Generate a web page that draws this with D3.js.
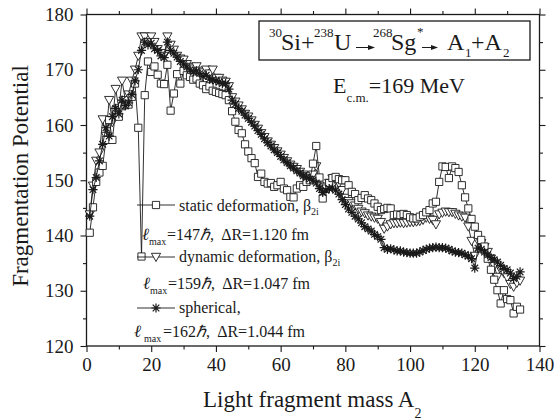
<!DOCTYPE html>
<html><head><meta charset="utf-8">
<script src="https://cdn.jsdelivr.net/npm/d3@7"></script>
<style>
body{margin:0;background:#fff}
svg{display:block}
text{font-family:"Liberation Serif","Times New Roman",serif;fill:#1a1a1a}
</style>
</head><body>
<svg id="c" width="554" height="420"></svg>
<script>
// ---- data ----
const massNumbers = d3.range(1, 135); // light fragment mass A2 = 1..134
const staticDef = [140.5,145.1,149.7,151.4,152.6,157.3,160.9,157.3,162.7,161.5,
163.4,163.6,163.7,165.1,167.5,159.5,136.2,165.4,171.5,169.6,
170.6,169.1,167.5,167.4,170.9,162.6,165.7,169.2,167.5,169.8,
169.0,168.7,168.2,168.4,167.5,167.2,166.5,167.0,166.2,166.0,
165.8,165.6,165.4,164.5,162.5,160.6,159.1,158.5,156.5,155.2,
154.0,153.1,150.6,151.2,149.7,149.4,149.5,148.8,149.1,149.7,
148.5,148.2,147.0,146.9,148.5,149.1,148.8,149.7,150.0,153.0,
156.2,150.5,146.7,148.5,149.5,150.4,150.6,150.2,150.0,150.0,
149.1,147.9,147.5,146.4,146.8,147.3,146.7,146.4,145.8,145.2,
144.6,144.8,145.0,144.9,143.7,143.8,143.7,143.9,143.7,143.3,
143.1,143.1,143.4,143.7,144.2,144.6,145.8,146.1,149.7,152.5,
152.4,150.4,152.5,152.2,151.5,149.1,146.9,144.9,143.0,141.6,
140.1,139.2,138.0,135.8,133.8,132.0,130.1,127.7,130.1,128.5,
128.3,125.9,127.1,126.6];
const dynamicDef = [143.8,149.0,153.5,155.0,161.0,158.0,164.5,160.5,166.5,163.0,
168.0,164.5,165.5,168.0,170.0,172.5,176.0,176.0,175.0,176.0,
175.0,173.7,173.0,172.5,176.0,174.5,173.6,172.5,172.0,171.8,
171.0,170.5,170.2,170.6,169.8,169.5,170.0,169.3,170.0,168.5,
168.5,168.0,167.8,167.0,165.0,164.2,163.5,162.8,162.0,161.5,
160.8,160.0,159.3,158.5,157.8,157.0,156.4,155.8,155.2,154.6,
154.0,153.4,152.8,152.4,152.0,151.5,151.0,150.7,150.4,151.0,
152.5,149.0,148.2,148.8,149.5,150.3,150.0,149.4,148.2,146.8,
146.2,145.8,145.4,144.8,144.3,144.0,143.6,143.4,143.2,143.0,
142.4,141.2,141.6,142.0,142.2,142.2,142.3,142.2,142.3,142.4,
142.4,142.5,142.6,142.8,143.2,143.0,142.8,142.0,143.8,144.1,
144.3,144.2,144.2,143.9,143.6,143.4,143.2,141.6,139.0,136.3,
139.0,138.6,137.9,137.0,135.8,134.5,132.5,133.8,133.2,132.4,
131.2,130.7,131.4,131.8];
const spherical = [143.5,148.3,150.5,153.5,156.5,159.5,158.0,161.5,163.0,162.0,
164.5,163.5,164.0,165.5,168.0,170.0,173.5,175.0,174.5,174.8,
173.8,173.5,172.5,172.2,175.0,173.5,173.0,172.3,171.5,171.0,
170.5,170.0,169.6,169.8,169.3,168.8,169.0,168.3,168.2,168.0,
167.8,167.5,167.5,166.5,164.5,163.8,163.0,162.5,161.8,161.2,
160.5,159.8,159.0,158.3,157.5,156.8,156.2,155.5,155.0,154.3,
153.7,153.2,152.6,152.2,151.7,151.3,150.8,150.5,150.2,150.0,
149.5,148.5,147.8,148.2,148.5,148.6,148.2,147.5,146.5,145.6,
144.8,144.2,143.5,143.0,142.3,141.6,141.2,140.8,140.2,139.8,
139.3,137.8,137.5,137.6,137.4,137.2,137.2,137.0,136.9,136.8,
136.8,136.8,137.0,137.3,137.5,137.7,137.8,137.9,137.8,137.8,
137.7,137.5,137.2,137.0,136.9,136.8,136.5,136.3,135.8,134.1,
137.7,137.5,137.0,136.5,136.0,135.6,135.2,134.6,134.0,133.8,
133.2,132.2,132.6,133.4];
const xTicks = [0, 20, 40, 60, 80, 100, 120, 140];
const xMinor = [10, 30, 50, 70, 90, 110, 130];
const yTicks = [120, 130, 140, 150, 160, 170, 180];
const yMinor = [125, 135, 145, 155, 165, 175];

// ---- scales ----
const svg = d3.select("#c");
const x = d3.scaleLinear().domain([0, 140]).range([86.5, 539.5]);
const y = d3.scaleLinear().domain([120, 180]).range([346, 14.5]);
const INK = "#1a1a1a";
const SERIF = '"Liberation Serif","Times New Roman",serif';

// ---- axes ----
function styleAxis(g, labels) {
  g.select(".domain").remove();
  g.selectAll("line").attr("stroke", INK).attr("stroke-width", 1.1);
  g.selectAll("text").style("font-family", SERIF).attr("font-size", 19).attr("fill", INK);
  if (!labels) g.selectAll("text").remove();
  g.attr("font-family", null).attr("font-size", null);
}
svg.append("g").attr("transform", `translate(0,${y(120)})`)
  .call(d3.axisBottom(x).tickValues(xTicks).tickSize(6).tickPadding(6).tickSizeOuter(0)).call(g => styleAxis(g, true));
svg.append("g").attr("transform", `translate(0,${y(120)})`)
  .call(d3.axisBottom(x).tickValues(xMinor).tickSize(3.5).tickFormat("")).call(g => styleAxis(g, false));
svg.append("g").attr("transform", `translate(0,${y(180)})`)
  .call(d3.axisTop(x).tickValues(xTicks).tickSize(6).tickFormat("")).call(g => styleAxis(g, false));
svg.append("g").attr("transform", `translate(0,${y(180)})`)
  .call(d3.axisTop(x).tickValues(xMinor).tickSize(3.5).tickFormat("")).call(g => styleAxis(g, false));
svg.append("g").attr("transform", `translate(${x(0)},0)`)
  .call(d3.axisLeft(y).tickValues(yTicks).tickSize(6).tickPadding(7).tickSizeOuter(0)).call(g => styleAxis(g, true));
svg.append("g").attr("transform", `translate(${x(0)},0)`)
  .call(d3.axisLeft(y).tickValues(yMinor).tickSize(3.5).tickFormat("")).call(g => styleAxis(g, false));
svg.append("g").attr("transform", `translate(${x(140)},0)`)
  .call(d3.axisRight(y).tickValues(yTicks).tickSize(6).tickFormat("")).call(g => styleAxis(g, false));
svg.append("g").attr("transform", `translate(${x(140)},0)`)
  .call(d3.axisRight(y).tickValues(yMinor).tickSize(3.5).tickFormat("")).call(g => styleAxis(g, false));

svg.append("rect").attr("x", x(0)).attr("y", y(180)).attr("width", x(140) - x(0)).attr("height", y(120) - y(180))
  .attr("fill", "none").attr("stroke", INK).attr("stroke-width", 1.3);

// ---- markers ----
const sq = "M-3.6,-3.6H3.6V3.6H-3.6Z";
const tri = "M-4.6,-3.7L4.6,-3.7L0,4.5Z";
const star = "M0,-4.6V4.6M-4.6,0H4.6M-3.3,-3.3L3.3,3.3M-3.3,3.3L3.3,-3.3";

const line = d3.line().x(d => x(d[0])).y(d => y(d[1]));
function series(vals, shape, fill, sw) {
  const pts = massNumbers.map((a, i) => [a, vals[i]]);
  const g = svg.append("g");
  g.append("path").attr("d", line(pts)).attr("fill", "none").attr("stroke", INK).attr("stroke-width", 0.9);
  g.selectAll("path.m").data(pts).join("path").attr("class", "m")
    .attr("transform", d => `translate(${x(d[0])},${y(d[1])})`)
    .attr("d", shape).attr("fill", fill).attr("stroke", INK).attr("stroke-width", sw);
}
series(dynamicDef, tri, "#fff", 0.9);
series(staticDef, sq, "#fff", 0.9);
series(spherical, star, "none", 1.2);

// ---- text helper ----
function txt(xp, yp, s, size, italic) {
  const t = svg.append("text").attr("x", xp).attr("y", yp).attr("font-size", size)
    .attr("xml:space", "preserve").style("font-family", SERIF).text(s);
  if (italic) t.attr("font-style", "italic");
  return t;
}

// ---- legend ----
const legendItems = [
  {shape: sq, fill: "#fff", y: 205, sw: 0.9},
  {shape: tri, fill: "#fff", y: 257, sw: 0.9},
  {shape: star, fill: "none", y: 308, sw: 1.2}
];
legendItems.forEach(it => {
  svg.append("line").attr("x1", 137).attr("x2", 175).attr("y1", it.y).attr("y2", it.y).attr("stroke", INK).attr("stroke-width", 0.9);
  svg.append("path").attr("d", it.shape).attr("transform", `translate(156,${it.y})`).attr("fill", it.fill).attr("stroke", INK).attr("stroke-width", it.sw);
});
const legendNames = ["static deformation, β", "dynamic deformation, β", "spherical,"];
const legendParams = [["=147", "1.120"], ["=159", "1.047"], ["=162", "1.044"]];
const nameY = [211, 262, 313];
const paramY = [240, 289, 337];
const paramX = [[142, 149, 167], [143, 150, 168], [134, 144, 163]];
legendNames.forEach((n, i) => {
  const t = txt(179, nameY[i], n, 16);
  if (i < 2) t.append("tspan").attr("font-size", 10).attr("dy", 4).text("2i");
  const px = paramX[i];
  txt(px[0], paramY[i], "ℓ", 17, true);
  txt(px[1], paramY[i] + 5, "max", 10);
  const p = txt(px[2], paramY[i], legendParams[i][0], 16);
  p.append("tspan").attr("font-style", "italic").text("ℏ");
  p.append("tspan").text(",  ΔR=" + legendParams[i][1] + " fm");
});

// ---- title box ----
svg.append("rect").attr("x", 259).attr("y", 21).attr("width", 271).attr("height", 39)
  .attr("fill", "#fff").attr("stroke", INK).attr("stroke-width", 1.3);
txt(269, 37, "30", 13);
txt(281, 50, "Si+", 24);
txt(314, 37, "238", 13);
txt(334, 50, "U", 24);
txt(373, 37, "268", 13);
txt(391, 50, "Sg", 24);
txt(417, 36, "*", 13);
txt(447, 50, "A", 24);
txt(465, 57, "1", 13);
txt(471, 50, "+A", 24);
txt(503, 57, "2", 13);
function arrow(x1, x2, yy) {
  svg.append("line").attr("x1", x1).attr("x2", x2 - 4).attr("y1", yy).attr("y2", yy).attr("stroke", INK).attr("stroke-width", 1);
  svg.append("path").attr("d", `M${x2 - 7},${yy - 2.5}L${x2},${yy}L${x2 - 7},${yy + 2.5}Z`).attr("fill", INK);
}
arrow(356, 375, 47.5);
arrow(422, 438, 47.5);

const e = txt(333, 93, "E", 22);
e.append("tspan").attr("font-size", 13).attr("dy", 9).text("c.m.");
e.append("tspan").attr("dy", -9).text("=169 MeV");

// ---- axis titles ----
svg.append("text").attr("transform", "translate(28,176) rotate(-90)").attr("text-anchor", "middle")
  .attr("font-size", 23).style("font-family", SERIF).text("Fragmentation Potential");
const xt = txt(203, 407, "Light fragment mass A", 23);
xt.append("tspan").attr("font-size", 14).attr("dy", 11).text("2");
</script>
</body></html>
